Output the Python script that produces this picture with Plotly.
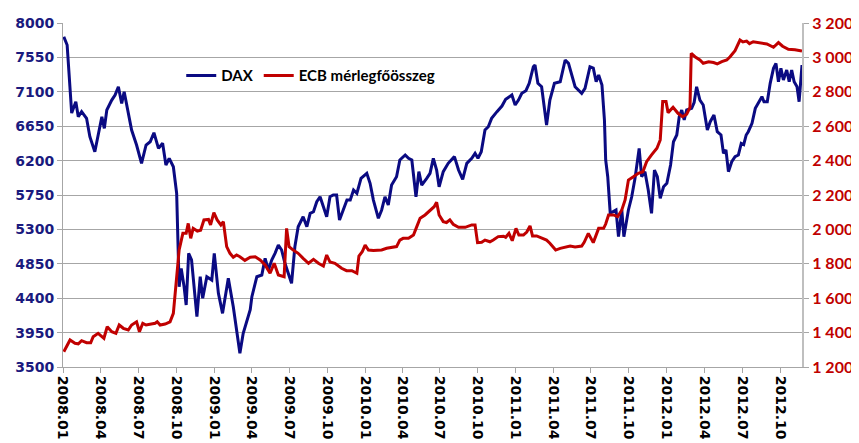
import plotly.graph_objects as go

# DAX (left axis), weekly-ish readings
dax_dates = [
    '2008-01-03', '2008-01-11', '2008-01-22', '2008-02-01', '2008-02-07', '2008-02-15', '2008-02-27',
    '2008-03-06', '2008-03-18', '2008-04-04', '2008-04-10', '2008-04-16', '2008-04-28', '2008-05-06',
    '2008-05-14', '2008-05-22', '2008-05-28', '2008-06-07', '2008-06-15', '2008-06-27', '2008-07-09',
    '2008-07-20', '2008-07-30', '2008-08-08', '2008-08-19', '2008-08-29', '2008-09-06', '2008-09-14',
    '2008-09-24', '2008-10-02', '2008-10-08', '2008-10-13', '2008-10-20', '2008-10-25', '2008-10-31',
    '2008-11-07', '2008-11-20', '2008-11-28', '2008-12-04', '2008-12-14', '2008-12-26', '2009-01-01',
    '2009-01-11', '2009-01-21', '2009-02-04', '2009-02-16', '2009-03-04', '2009-03-12', '2009-03-29',
    '2009-04-02', '2009-04-14', '2009-04-26', '2009-05-04', '2009-05-12', '2009-05-20', '2009-05-28',
    '2009-06-05', '2009-06-13', '2009-06-21', '2009-06-29', '2009-07-07', '2009-07-15', '2009-07-23',
    '2009-08-04', '2009-08-13', '2009-08-21', '2009-08-29', '2009-09-06', '2009-09-14', '2009-09-22',
    '2009-09-30', '2009-10-08', '2009-10-16', '2009-10-24', '2009-10-31', '2009-11-09', '2009-11-18',
    '2009-11-26', '2009-12-04', '2009-12-12', '2009-12-22', '2010-01-05', '2010-01-13', '2010-01-21',
    '2010-02-02', '2010-02-10', '2010-02-18', '2010-02-26', '2010-03-06', '2010-03-18', '2010-03-26',
    '2010-04-08', '2010-04-16', '2010-04-24', '2010-05-04', '2010-05-11', '2010-05-18', '2010-05-30',
    '2010-06-07', '2010-06-15', '2010-06-23', '2010-06-29', '2010-07-09', '2010-07-21', '2010-08-05',
    '2010-08-15', '2010-08-25', '2010-09-04', '2010-09-16', '2010-09-24', '2010-10-01', '2010-10-09',
    '2010-10-18', '2010-10-26', '2010-11-03', '2010-11-16', '2010-11-28', '2010-12-07', '2010-12-22',
    '2010-12-30', '2011-01-07', '2011-01-15', '2011-01-25', '2011-02-02', '2011-02-12', '2011-02-16',
    '2011-02-23', '2011-03-04', '2011-03-16', '2011-03-24', '2011-04-04', '2011-04-18', '2011-04-30',
    '2011-05-08', '2011-05-24', '2011-06-09', '2011-06-17', '2011-06-29', '2011-07-07', '2011-07-14',
    '2011-07-20', '2011-07-28', '2011-08-03', '2011-08-06', '2011-08-11', '2011-08-17', '2011-08-23',
    '2011-08-31', '2011-09-06', '2011-09-14', '2011-09-19', '2011-09-30', '2011-10-08', '2011-10-16',
    '2011-10-26', '2011-11-01', '2011-11-09', '2011-11-17', '2011-11-25', '2011-12-02', '2011-12-09',
    '2011-12-16', '2011-12-24', '2012-01-01', '2012-01-10', '2012-01-17', '2012-01-25', '2012-01-31',
    '2012-02-06', '2012-02-12', '2012-02-18', '2012-03-01', '2012-03-07', '2012-03-13', '2012-03-21',
    '2012-03-29', '2012-04-08', '2012-04-15', '2012-04-24', '2012-05-02', '2012-05-11', '2012-05-17',
    '2012-05-23', '2012-05-29', '2012-06-06', '2012-06-14', '2012-06-22', '2012-06-29', '2012-07-05',
    '2012-07-11', '2012-07-16', '2012-07-25', '2012-08-02', '2012-08-10', '2012-08-18', '2012-08-23',
    '2012-08-31', '2012-09-07', '2012-09-15', '2012-09-21', '2012-09-27', '2012-10-03', '2012-10-09',
    '2012-10-17', '2012-10-23', '2012-10-29', '2012-11-04', '2012-11-11', '2012-11-16', '2012-11-23',
]
dax_values = [
    7820, 7712, 6822, 6970, 6774, 6840, 6753,
    6512, 6316, 6774, 6622, 6862, 6992, 7058,
    7166, 6949, 7101, 6796, 6600, 6404, 6164,
    6404, 6447, 6565, 6360, 6426, 6142, 6230,
    6120, 5772, 4550, 4790, 4550, 4311, 4987,
    4900, 4158, 4681, 4399, 4681, 4638, 4987,
    4464, 4202, 4660, 4289, 3679, 3941, 4250,
    4420, 4681, 4703, 4921, 4769, 4900, 4987,
    5096, 5030, 4856, 4726, 4595, 5073, 5335,
    5466, 5335, 5510, 5531, 5662, 5727, 5597,
    5466, 5727, 5750, 5750, 5423, 5554, 5684,
    5684, 5815, 5772, 5968, 6034, 5903, 5684,
    5445, 5554, 5727, 5619, 5880, 5989, 6208,
    6273, 6230, 6208, 5727, 6055, 5880, 5968,
    6034, 6230, 6077, 5858, 6055, 6164, 6252,
    6077, 5955, 6164, 6230, 6295, 6230, 6316,
    6600, 6643, 6753, 6840, 6914, 7001, 7058,
    6927, 6992, 7080, 7114, 7211, 7428, 7450,
    7211, 7166, 6665, 6992, 7211, 7232, 7516,
    7472, 7166, 7080, 7145, 7428, 7410, 7232,
    7319, 7188, 6731, 6208, 5989, 5510, 5531,
    5554, 5205, 5554, 5205, 5554, 5727, 5968,
    6360, 5989, 6055, 5815, 5510, 6077, 5989,
    5707, 5858, 5903, 6142, 6447, 6535, 6774,
    6862, 6731, 6862, 6884, 6960, 7166, 6992,
    6927, 6600, 6709, 6796, 6578, 6535, 6295,
    6340, 6055, 6185, 6252, 6273, 6426, 6410,
    6535, 6578, 6688, 6884, 6970, 7036, 6970,
    6970, 7211, 7407, 7472, 7232, 7407, 7254,
    7385, 7232, 7385, 7232, 7166, 6970, 7450,
]

# ECB balance sheet total (right axis)
ecb_dates = [
    '2008-01-03', '2008-01-18', '2008-01-30', '2008-02-07', '2008-02-15', '2008-02-27', '2008-03-08',
    '2008-03-14', '2008-03-26', '2008-04-04', '2008-04-09', '2008-04-17', '2008-04-28', '2008-05-08',
    '2008-05-16', '2008-05-26', '2008-06-07', '2008-06-15', '2008-06-27', '2008-07-04', '2008-07-12',
    '2008-07-20', '2008-07-30', '2008-08-11', '2008-08-16', '2008-08-23', '2008-09-04', '2008-09-16',
    '2008-09-24', '2008-09-30', '2008-10-08', '2008-10-17', '2008-10-25', '2008-10-30', '2008-11-05',
    '2008-11-11', '2008-11-21', '2008-11-29', '2008-12-07', '2008-12-18', '2008-12-23', '2008-12-31',
    '2009-01-08', '2009-01-17', '2009-01-23', '2009-01-31', '2009-02-08', '2009-02-16', '2009-02-24',
    '2009-03-04', '2009-03-16', '2009-03-29', '2009-04-10', '2009-04-22', '2009-05-04', '2009-05-16',
    '2009-05-26', '2009-06-05', '2009-06-19', '2009-06-25', '2009-07-01', '2009-07-11', '2009-07-23',
    '2009-08-04', '2009-08-17', '2009-08-29', '2009-09-10', '2009-09-22', '2009-09-30', '2009-10-08',
    '2009-10-20', '2009-11-05', '2009-11-17', '2009-11-30', '2009-12-12', '2009-12-17', '2009-12-25',
    '2010-01-01', '2010-01-09', '2010-01-21', '2010-01-29', '2010-02-10', '2010-02-22', '2010-03-06',
    '2010-03-18', '2010-03-26', '2010-04-03', '2010-04-16', '2010-04-28', '2010-05-06', '2010-05-14',
    '2010-05-26', '2010-06-07', '2010-06-17', '2010-06-23', '2010-06-29', '2010-07-09', '2010-07-17',
    '2010-07-25', '2010-08-02', '2010-08-15', '2010-08-31', '2010-09-16', '2010-09-24', '2010-09-30',
    '2010-10-10', '2010-10-18', '2010-10-30', '2010-11-07', '2010-11-19', '2010-12-02', '2010-12-07',
    '2010-12-15', '2010-12-23', '2011-01-01', '2011-01-08', '2011-01-19', '2011-01-27', '2011-02-04',
    '2011-02-10', '2011-02-20', '2011-03-04', '2011-03-16', '2011-03-24', '2011-04-07', '2011-04-18',
    '2011-04-30', '2011-05-12', '2011-05-24', '2011-06-09', '2011-06-15', '2011-06-25', '2011-07-07',
    '2011-07-20', '2011-08-01', '2011-08-06', '2011-08-13', '2011-08-25', '2011-09-04', '2011-09-14',
    '2011-09-22', '2011-09-30', '2011-10-12', '2011-10-24', '2011-11-04', '2011-11-13', '2011-11-25',
    '2011-12-08', '2011-12-16', '2011-12-22', '2011-12-30', '2012-01-04', '2012-01-16', '2012-01-28',
    '2012-02-08', '2012-02-18', '2012-02-26', '2012-02-29', '2012-03-09', '2012-03-21', '2012-03-29',
    '2012-04-11', '2012-04-23', '2012-05-02', '2012-05-13', '2012-05-25', '2012-06-02', '2012-06-14',
    '2012-06-26', '2012-07-03', '2012-07-12', '2012-07-19', '2012-07-28', '2012-08-13', '2012-08-30',
    '2012-09-15', '2012-09-27', '2012-10-07', '2012-10-21', '2012-11-06', '2012-11-23',
]
ecb_values = [
    1289, 1357, 1338, 1335, 1353, 1341, 1341,
    1376, 1396, 1380, 1367, 1434, 1405, 1396,
    1444, 1425, 1415, 1444, 1463, 1405, 1454,
    1444, 1450, 1454, 1463, 1444, 1450, 1463,
    1512, 1667, 1880, 1977, 1977, 2035, 1948,
    2006, 1990, 1995, 2055, 2058, 2026, 2097,
    2055, 2026, 2045, 1900, 1861, 1838, 1851,
    1841, 1820, 1838, 1841, 1822, 1793, 1745,
    1803, 1735, 1725, 2006, 1900, 1880, 1861,
    1832, 1803, 1826, 1803, 1787, 1851, 1810,
    1803, 1774, 1760, 1760, 1745, 1845, 1870,
    1909, 1880, 1878, 1880, 1880, 1890, 1895,
    1900, 1938, 1948, 1948, 1967, 2016, 2065,
    2084, 2113, 2132, 2158, 2084, 2045, 2040,
    2055, 2030, 2012, 2012, 2026, 2026, 1923,
    1925, 1938, 1928, 1938, 1958, 1960, 1954,
    1977, 1934, 2006, 1967, 1967, 1985, 2020,
    1962, 1962, 1948, 1938, 1920, 1880, 1890,
    1896, 1903, 1898, 1903, 1925, 1977, 1923,
    2006, 2006, 2031, 2084, 2084, 2074, 2113,
    2171, 2287, 2306, 2326, 2335, 2394, 2433,
    2472, 2520, 2743, 2743, 2679, 2710, 2675,
    2655, 2670, 2710, 3024, 3004, 2985, 2966,
    2975, 2970, 2962, 2975, 2985, 3004, 3039,
    3101, 3090, 3095, 3080, 3091, 3085, 3078,
    3059, 3086, 3065, 3047, 3045, 3037,
]

# quarterly x ticks
tick_dates = ['2008-01-01', '2008-04-01', '2008-07-01', '2008-10-01', '2009-01-01', '2009-04-01',
              '2009-07-01', '2009-10-01', '2010-01-01', '2010-04-01', '2010-07-01', '2010-10-01',
              '2011-01-01', '2011-04-01', '2011-07-01', '2011-10-01', '2012-01-01', '2012-04-01',
              '2012-07-01', '2012-10-01']
tick_labels = [d[:4] + '.' + d[5:7] for d in tick_dates]

grid = '#a6a6a6'

fig = go.Figure()
fig.add_trace(go.Scatter(x=dax_dates, y=dax_values, mode='lines', name='DAX',
                         line=dict(color='#0a0a82', width=3)))
fig.add_trace(go.Scatter(x=ecb_dates, y=ecb_values, mode='lines', name='ECB mérlegfőösszeg',
                         line=dict(color='#c00000', width=3), yaxis='y2'))

# page body has an 8px margin, so the figure is made 8px smaller on each axis
fig.update_layout(
    width=851, height=435,
    margin=dict(l=55, r=57, t=15, b=76, autoexpand=False),
    paper_bgcolor='white', plot_bgcolor='white',
    separators='. ',
    showlegend=True,
    legend=dict(orientation='h', x=0.16, y=0.847, xanchor='left', yanchor='middle',
                bgcolor='rgba(0,0,0,0)', itemwidth=30,
                font=dict(family='Lato', size=15, color='black', weight='bold')),
    xaxis=dict(type='date', range=['2008-01-01', '2012-11-23'],
               tickmode='array', tickvals=tick_dates, ticktext=tick_labels,
               tickangle=90, ticks='outside', ticklen=5, tickcolor=grid,
               showline=True, linecolor=grid, linewidth=1, showgrid=False, zeroline=False,
               tickfont=dict(family='DejaVu Sans', size=14, color='black', weight='bold')),
    yaxis=dict(range=[3500, 8000], dtick=450, tick0=3500,
               ticks='outside', ticklen=5, tickcolor=grid,
               showline=True, linecolor=grid, linewidth=1,
               showgrid=True, gridcolor=grid, gridwidth=1, zeroline=False,
               tickfont=dict(family='DejaVu Sans', size=14, color='#1a1a7e', weight='bold')),
    yaxis2=dict(range=[1200, 3200], dtick=200, tick0=1200, overlaying='y', side='right',
                ticks='outside', ticklen=5, tickcolor=grid, separatethousands=True,
                showline=True, linecolor='#bfbfbf', linewidth=2, showgrid=False, zeroline=False,
                tickfont=dict(family='Lato', size=16, color='#c00000', weight='bold')),
)

fig.write_html('out.html')
